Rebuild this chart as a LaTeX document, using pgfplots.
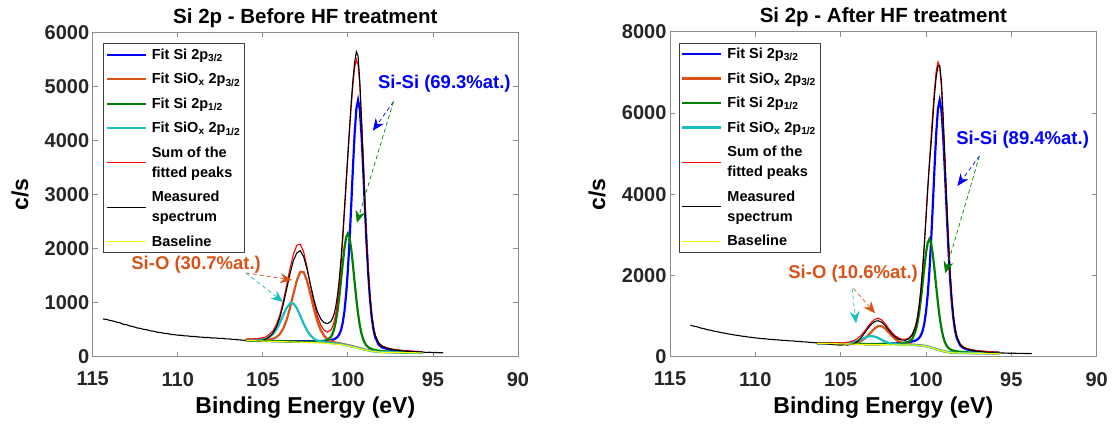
\documentclass[border=0pt]{standalone}
\usepackage{fontspec}
\setmainfont{Liberation Sans}
\usepackage{pgfplots}
\pgfplotsset{compat=1.18}
\usepackage{pgfplotstable}
\usetikzlibrary{arrows.meta}
\definecolor{mblue}{RGB}{0,0,255}
\definecolor{morange}{RGB}{217,83,25}
\definecolor{mgreen}{RGB}{0,128,0}
\definecolor{mcyan}{RGB}{25,190,190}
\definecolor{mred}{RGB}{255,0,0}
\definecolor{myellow}{RGB}{255,255,0}
\definecolor{axgray}{RGB}{140,140,140}

\pgfplotstableread{
E B blue orange green cyan sum
106.0 300 304 311 302 309 326
105.6 296 301 310 299 308 330
105.2 292 297 310 295 311 337
104.8 288 294 314 292 331 367
104.4 284 291 333 288 416 476
104.2 282 290 361 287 503 595
104.0 280 289 417 285 625 776
103.8 278 288 518 284 768 1024
103.6 276 286 679 282 903 1322
103.4 274 285 902 281 987 1633
103.2 272 285 1164 280 985 1898
103.0 270 284 1411 279 897 2061
102.8 268 284 1566 278 758 2082
102.6 266 284 1564 278 611 1939
102.4 264 284 1405 278 485 1660
102.2 261 284 1153 278 393 1325
102.0 259 286 887 279 334 1009
101.8 256 287 659 281 299 758
101.6 253 290 493 284 280 588
101.4 249 293 386 290 268 490
101.2 245 299 324 308 259 455
101.0 240 307 289 364 252 492
100.9 237 315 277 424 248 553
100.8 234 324 268 520 244 654
100.7 231 341 260 664 240 812
100.6 229 369 255 864 238 1039
100.5 226 416 249 1119 234 1340
100.4 222 496 243 1417 229 1719
100.3 217 630 236 1728 224 2167
100.2 211 843 229 2009 218 2666
100.1 206 1161 223 2210 212 3188
100.0 200 1601 216 2280 206 3703
99.9 193 2164 208 2197 199 4189
99.8 186 2822 200 1984 191 4639
99.7 179 3513 192 1690 184 5042
99.6 172 4141 184 1367 177 5353
99.5 165 4588 176 1058 170 5497
99.4 157 4747 168 792 162 5398
99.3 149 4572 159 582 153 5019
99.2 141 4110 151 427 145 4410
99.1 133 3467 142 320 137 3667
99.0 125 2761 133 249 129 2897
98.9 119 2090 127 205 123 2188
98.8 113 1514 121 176 116 1588
98.7 107 1062 114 157 110 1122
98.6 101 733 108 142 104 784
98.5 96 509 103 131 99 554
98.4 92 366 98 123 95 406
98.2 87 227 93 112 90 261
98.0 82 172 87 102 85 200
97.6 80 134 85 94 82 155
97.2 77 114 81 87 79 130
96.8 75 102 79 83 77 116
96.4 74 94 77 80 76 105
96.0 72 88 75 77 74 98
95.6 70 83 72 74 72 91
}\leftfit

\pgfplotstableread{
E c
114.4 697
114.2 690
114.0 672
113.8 660
113.6 640
113.4 628
113.2 598
113.0 592
112.8 566
112.6 555
112.4 532
112.2 524
112.0 505
111.8 497
111.6 478
111.4 470
111.2 452
111.0 447
110.8 432
110.6 428
110.4 412
110.2 408
110.0 398
109.8 396
109.6 386
109.4 384
109.2 373
109.0 374
108.8 365
108.6 362
108.4 355
108.2 356
108.0 346
107.8 348
107.6 338
107.4 340
107.2 331
107.0 330
106.8 322
106.6 318
106.4 312
106.2 306
106.0 300
105.8 298
105.6 296
105.4 292
105.2 300
105.0 305
104.8 330
104.6 370
104.4 440
104.2 550
104.0 720
103.8 960
103.6 1250
103.4 1540
103.2 1780
103.0 1920
102.8 1960
102.6 1850
102.4 1620
102.2 1330
102.0 1060
101.8 840
101.6 700
101.4 630
101.2 612
101.0 650
100.9 710
100.8 800
100.7 950
100.6 1160
100.5 1450
100.4 1820
100.3 2260
100.2 2750
100.1 3250
100.0 3750
99.9 4250
99.8 4720
99.7 5130
99.6 5450
99.5 5640
99.4 5560
99.3 5100
99.2 4400
99.1 3600
99.0 2800
98.9 2100
98.8 1520
98.7 1080
98.6 760
98.5 540
98.4 400
98.2 260
98.0 195
97.8 165
97.6 150
97.4 135
97.2 125
97.0 118
96.8 110
96.6 102
96.4 100
96.2 92
96.0 95
95.8 88
95.6 85
95.4 80
95.2 82
95.0 76
94.8 78
94.6 72
94.4 74
}\leftmeas

\pgfplotstableread{
E B blue orange green cyan sum
106.4 330 334 333 332 332 341
106.0 326 330 329 329 328 338
105.6 322 327 327 325 325 338
105.2 318 324 324 322 323 339
104.8 314 321 322 318 324 343
104.4 310 318 327 315 339 369
104.2 308 318 336 314 358 402
104.0 306 317 354 312 387 452
103.8 304 316 388 311 425 528
103.6 302 315 444 309 465 627
103.4 300 314 521 308 497 740
103.2 299 314 613 308 509 847
103.0 297 314 699 307 494 923
102.8 296 315 753 308 459 947
102.6 295 316 752 308 416 907
102.4 294 318 696 309 375 816
102.2 293 320 607 311 343 702
102.0 292 323 513 313 321 594
101.8 291 327 433 317 307 511
101.6 290 332 374 321 300 457
101.4 289 338 337 328 295 431
101.2 288 347 316 340 293 432
101.0 287 360 304 368 291 462
100.8 285 376 297 444 288 550
100.6 281 402 290 647 284 780
100.5 278 425 286 831 281 989
100.4 275 463 283 1087 278 1286
100.3 271 526 278 1413 273 1677
100.2 267 635 274 1795 269 2172
100.1 261 815 267 2193 263 2755
100.0 255 1103 261 2555 257 3411
99.9 246 1527 251 2809 248 4097
99.8 236 2117 241 2896 238 4784
99.7 224 2870 228 2787 226 5439
99.6 212 3750 216 2512 214 6056
99.5 199 4674 203 2131 201 6612
99.4 185 5511 189 1713 187 7045
99.3 171 6107 175 1313 173 7255
99.2 158 6318 161 970 160 7135
99.1 146 6082 149 699 148 6640
99.0 135 5461 138 501 137 5832
98.9 125 4600 128 364 126 4843
98.8 117 3655 120 276 118 3818
98.7 110 2756 113 220 111 2870
98.6 104 1985 107 185 105 2070
98.5 100 1381 103 164 101 1449
98.4 97 945 99 149 98 1000
98.3 95 649 97 140 96 697
98.2 93 461 95 132 94 503
98.0 90 278 92 121 91 312
97.8 89 210 91 115 90 239
97.6 87 178 89 108 88 202
97.2 85 144 87 100 86 162
96.8 84 126 86 96 85 141
96.4 83 114 85 92 84 126
96.0 82 106 84 89 83 116
95.7 81 101 82 88 82 110
}\rightfit

\pgfplotstableread{
E c
113.8 775
113.6 752
113.4 735
113.2 706
113.0 690
112.8 664
112.6 650
112.4 626
112.2 614
112.0 592
111.8 580
111.6 560
111.4 552
111.2 532
111.0 524
110.8 506
110.6 498
110.4 483
110.2 476
110.0 462
109.8 455
109.6 444
109.4 440
109.2 428
109.0 424
108.8 414
108.6 411
108.4 402
108.2 400
108.0 390
107.8 389
107.6 378
107.4 376
107.2 366
107.0 362
106.8 352
106.6 348
106.4 338
106.2 330
106.0 322
105.8 312
105.6 304
105.4 298
105.2 290
105.0 286
104.8 292
104.6 288
104.4 300
104.2 330
104.0 380
103.8 470
103.6 580
103.4 700
103.2 800
103.0 870
102.8 885
102.6 850
102.4 770
102.2 660
102.0 560
101.8 480
101.6 430
101.4 408
101.2 405
101.0 440
100.8 540
100.6 760
100.5 960
100.4 1250
100.3 1650
100.2 2150
100.1 2750
100.0 3450
99.9 4150
99.8 4750
99.7 5250
99.6 5850
99.5 6450
99.4 6900
99.3 7150
99.2 7170
99.1 6800
99.0 5950
98.9 4950
98.8 3900
98.7 2950
98.6 2120
98.5 1480
98.4 1020
98.3 700
98.2 500
98.0 300
97.8 225
97.6 190
97.4 165
97.2 150
97.0 135
96.8 128
96.6 118
96.4 112
96.2 104
96.0 100
95.8 96
95.6 92
95.4 90
95.2 86
95.0 84
94.8 86
94.6 80
94.4 82
94.2 78
94.0 80
93.8 76
}\rightmeas

\tikzset{
  fitline/.style={line width=2.2pt},
  thinline/.style={line width=1.1pt},
  arr/.style={dash pattern=on 4pt off 3pt, line width=0.7pt, -{Stealth[length=12pt,width=10pt,inset=4pt]}},
  annot/.style={font=\fontsize{18.5}{22}\selectfont\bfseries},
}
\pgfplotsset{
  xpsaxis/.style={
    scale only axis, anchor=south west,
    xmin=90, xmax=115, x dir=reverse, ymin=0,
    xtick={90,95,100,105,110,115},
    tick align=inside, major tick length=5pt,
    axis line style={draw=axgray, line width=0.8pt},
    every tick/.style={draw=axgray, line width=0.8pt},
    tick label style={font=\fontsize{20}{24}\selectfont\bfseries, text=black!85},
    xticklabel style={yshift=-12pt},
    /pgf/number format/assume math mode=true,
    /pgf/number format/1000 sep={},
    title style={font=\fontsize{20.5}{24}\selectfont\bfseries, yshift=-5pt},
    label style={font=\fontsize{23}{27}\selectfont\bfseries},
    xlabel={Binding Energy (eV)}, ylabel={c/s},
    xlabel style={at={(axis description cs:0.5,-0.158)}, anchor=center},
    ylabel style={at={(axis description cs:-0.171,0.5)}, anchor=center},
    legend cell align=left,
    legend style={anchor=north west, draw=black!75, line width=0.6pt,
      font=\fontsize{14.5}{20}\selectfont\bfseries, cells={align=left},
      inner xsep=2pt, inner ysep=3pt, row sep=8.5pt,
      /tikz/every odd column/.append style={column sep=3pt}},
    legend image code/.code={\draw[##1] (0pt,0pt) -- (39pt,0pt);},
  },
}

\begin{document}
\begin{tikzpicture}
\path[use as bounding box] (0,0) rectangle (1115pt,425pt);
\begin{axis}[xpsaxis, at={(92.7pt,68.3pt)}, width=425.3pt, height=324.4pt,
  ymax=6000, ytick={0,1000,2000,3000,4000,5000,6000},
  title={Si 2p - Before HF treatment},
  legend style={at={(0.0249,0.966)}}]
\addplot[mblue, fitline] table[x=E,y=blue]{\leftfit};
\addlegendentry{Fit Si 2p\textsubscript{3/2}}
\addplot[morange, fitline] table[x=E,y=orange]{\leftfit};
\addlegendentry{Fit SiO\textsubscript{x} 2p\textsubscript{3/2}}
\addplot[mgreen, fitline] table[x=E,y=green]{\leftfit};
\addlegendentry{Fit Si 2p\textsubscript{1/2}}
\addplot[mcyan, fitline] table[x=E,y=cyan]{\leftfit};
\addlegendentry{Fit SiO\textsubscript{x} 2p\textsubscript{1/2}}
\addplot[mred, thinline] table[x=E,y=sum]{\leftfit};
\addlegendentry{Sum of the\\fitted peaks}
\addplot[black, thinline] table[x=E,y=c]{\leftmeas};
\addlegendentry{Measured\\spectrum}
\addplot[myellow, thinline] table[x=E,y=B]{\leftfit};
\addlegendentry{Baseline}
\node[annot, text=mblue] at (axis cs:94.33,5043) {Si-Si (69.3\%at.)};
\draw[arr, mblue] (axis cs:97.32,4716) -- (axis cs:98.53,4180);
\draw[arr, mgreen] (axis cs:97.32,4716) -- (axis cs:99.47,2478);
\node[annot, text=morange] at (axis cs:108.92,1696) {Si-O (30.7\%at.)};
\draw[arr, morange] (axis cs:106.0,1550) -- (axis cs:103.28,1418);
\draw[arr, mcyan] (axis cs:106.0,1550) -- (axis cs:103.81,1012);
\end{axis}

\begin{axis}[xpsaxis, at={(670pt,68.3pt)}, width=426.7pt, height=325pt,
  ymax=8000, ytick={0,2000,4000,6000,8000},
  title={Si 2p - After HF treatment},
  legend style={at={(0.021,0.966)}}]
\addplot[mblue, fitline] table[x=E,y=blue]{\rightfit};
\addlegendentry{Fit Si 2p\textsubscript{3/2}}
\addplot[morange, fitline] table[x=E,y=orange]{\rightfit};
\addlegendentry{Fit SiO\textsubscript{x} 2p\textsubscript{3/2}}
\addplot[mgreen, fitline] table[x=E,y=green]{\rightfit};
\addlegendentry{Fit Si 2p\textsubscript{1/2}}
\addplot[mcyan, fitline] table[x=E,y=cyan]{\rightfit};
\addlegendentry{Fit SiO\textsubscript{x} 2p\textsubscript{1/2}}
\addplot[mred, thinline] table[x=E,y=sum]{\rightfit};
\addlegendentry{Sum of the\\fitted peaks}
\addplot[black, thinline] table[x=E,y=c]{\rightmeas};
\addlegendentry{Measured\\spectrum}
\addplot[myellow, thinline] table[x=E,y=B]{\rightfit};
\addlegendentry{Baseline}
\node[annot, text=mblue] at (axis cs:94.34,5334) {Si-Si (89.4\%at.)};
\draw[arr, mblue] (axis cs:96.87,4940) -- (axis cs:98.16,4202);
\draw[arr, mgreen] (axis cs:96.87,4940) -- (axis cs:98.88,2053);
\node[annot, text=morange] at (axis cs:104.27,2053) {Si-O (10.6\%at.)};
\draw[arr, morange] (axis cs:104.25,1679) -- (axis cs:102.98,1068);
\draw[arr, mcyan] (axis cs:104.33,1679) -- (axis cs:104.1,822);
\end{axis}
\end{tikzpicture}
\end{document}
